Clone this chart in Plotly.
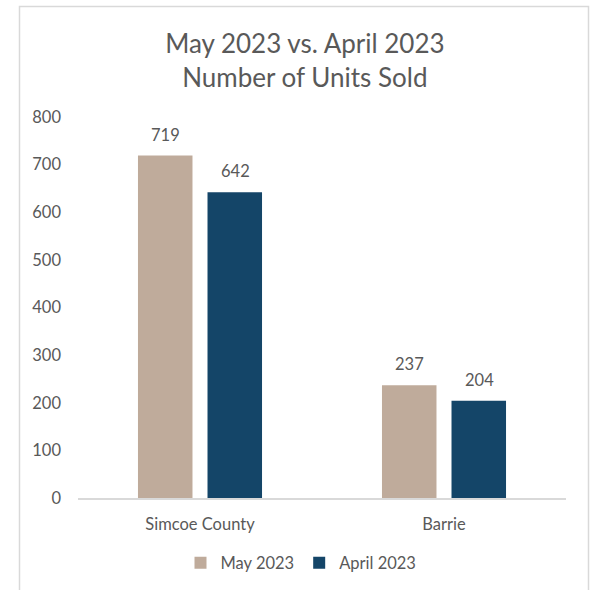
import plotly.graph_objects as go

categories = ["Simcoe County", "Barrie"]
may_2023 = [719, 237]
april_2023 = [642, 204]
series_names = ["May 2023", "April 2023"]
tick_values = [0, 100, 200, 300, 400, 500, 600, 700, 800]

W, H = 592, 590
L, R, T, B = 78, 26, 117, 92
FONT = "Lato, Carlito, Calibri, sans-serif"
TXT = "#595959"
FS = 16.5

fig = go.Figure()
fig.add_trace(go.Bar(x=categories, y=may_2023, name=series_names[0],
                     marker=dict(color="#bfab9b", line=dict(width=0))))
fig.add_trace(go.Bar(x=categories, y=april_2023, name=series_names[1],
                     marker=dict(color="#144568", line=dict(width=0))))

# value labels above bars
for vals, xs in ((may_2023, -35), (april_2023, 35)):
    for c, v in zip(categories, vals):
        fig.add_annotation(x=c, y=v, text=str(v), showarrow=False,
                           xshift=xs, yshift=9, yanchor="bottom",
                           font=dict(size=FS, color=TXT, family=FONT))

pw = W - L - R
ph = H - T - B
fig.add_shape(type="rect", xref="paper", yref="paper",
              x0=(19.5 - L) / pw, x1=(588.5 - L) / pw,
              y0=(H - B - 600) / ph, y1=(H - B - 6.5) / ph,
              line=dict(color="#d9d9d9", width=1.5), fillcolor="rgba(0,0,0,0)", layer="below")

fig.update_layout(
    width=W, height=H,
    margin=dict(l=L, r=R, t=T, b=B, autoexpand=False),
    paper_bgcolor="white", plot_bgcolor="white",
    font=dict(family=FONT, color=TXT, size=FS),
    title=dict(text="May 2023 vs. April 2023<br>Number of Units Sold",
               x=0.515, xanchor="center", xref="container",
               y=1 - 53 / H, yanchor="top", yref="container",
               font=dict(size=26, color=TXT, family=FONT)),
    barmode="group", bargap=0.43, bargroupgap=0.216,
    showlegend=True,
    legend=dict(orientation="h", xref="container", x=301 / W, xanchor="center",
                yref="container", y=1 - 563 / H, yanchor="middle",
                font=dict(size=FS, color=TXT, family=FONT),
                itemwidth=30, traceorder="normal"),
    xaxis=dict(showgrid=False, showline=True, linecolor="#d9d9d9", linewidth=1.5,
               ticks="", ticklabelstandoff=10, tickfont=dict(size=FS, color=TXT)),
    yaxis=dict(range=[0, 800], tickvals=tick_values, showgrid=False, zeroline=False,
               showline=False, ticks="", ticklabelstandoff=16,
               tickfont=dict(size=FS, color=TXT)),
)
fig.write_html("out.html")
